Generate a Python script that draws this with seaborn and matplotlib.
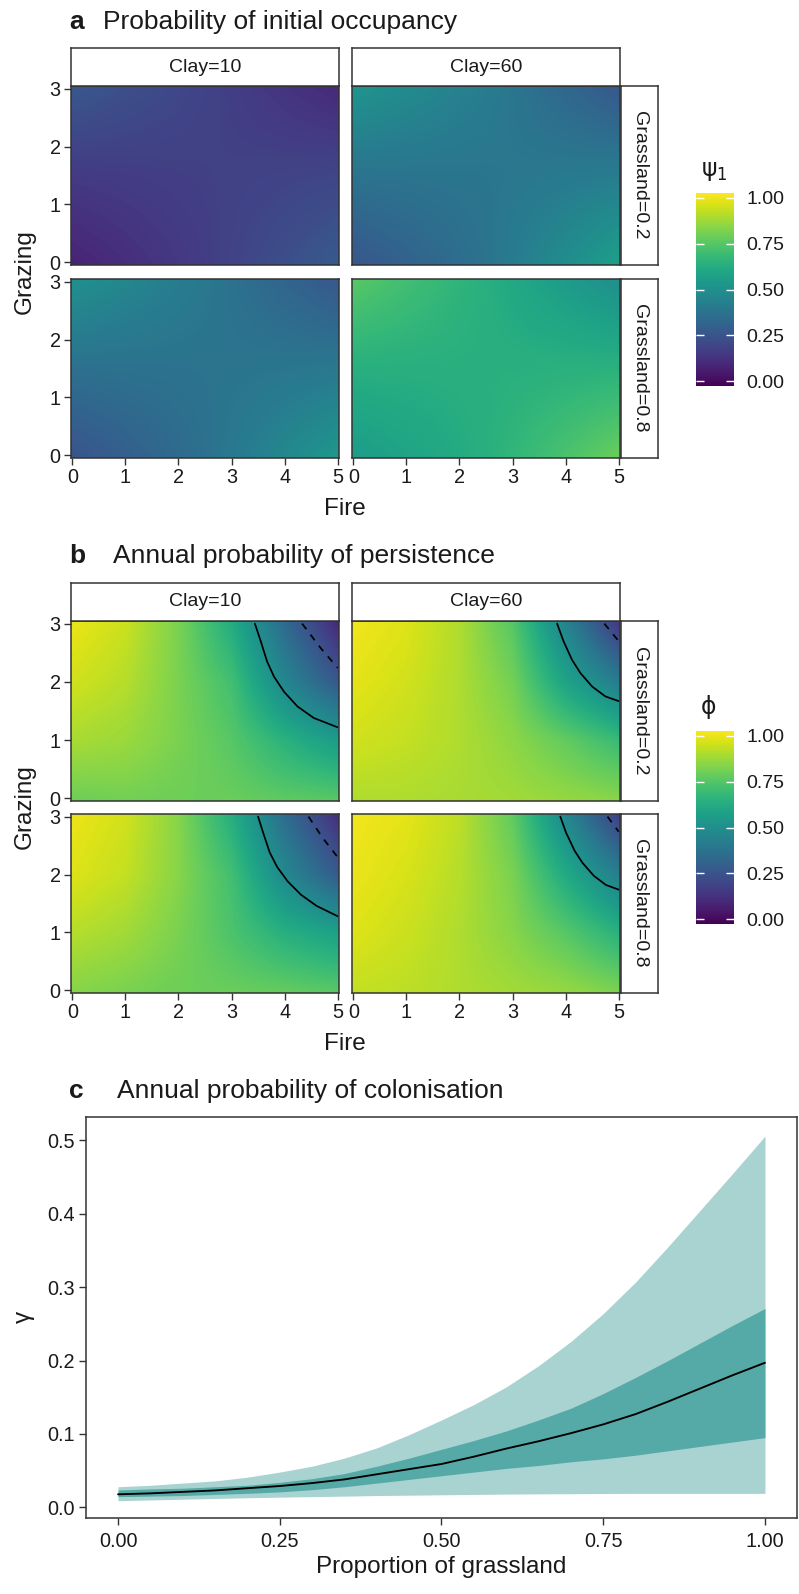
import numpy as np
import matplotlib
matplotlib.use("Agg")
import matplotlib.pyplot as plt
import seaborn as sns
import pandas as pd

# ------------------------------------------------------------------ data
# Panel a: probability of initial occupancy (psi_1); rows = grazing, cols = fire
a_fire = [0.0, 2.5, 5.0]
a_grazing = [0.0, 1.5, 3.0]
a_clay10_grass02 = [[0.10, 0.18, 0.28],
                    [0.17, 0.19, 0.21],
                    [0.27, 0.20, 0.12]]
a_clay60_grass02 = [[0.27, 0.38, 0.56],
                    [0.38, 0.39, 0.42],
                    [0.52, 0.42, 0.28]]
a_clay10_grass08 = [[0.26, 0.37, 0.53],
                    [0.37, 0.38, 0.40],
                    [0.50, 0.40, 0.28]]
a_clay60_grass08 = [[0.55, 0.63, 0.77],
                    [0.63, 0.63, 0.64],
                    [0.74, 0.63, 0.50]]

# Panel b: annual probability of persistence (phi)
b_fire = [0, 1, 2, 3, 4, 5]
b_grazing = [0, 1, 2, 3]
b_clay10_grass02 = [[0.78, 0.79, 0.78, 0.77, 0.75, 0.74],
                    [0.87, 0.85, 0.80, 0.74, 0.64, 0.55],
                    [0.93, 0.89, 0.80, 0.70, 0.46, 0.28],
                    [0.97, 0.92, 0.80, 0.62, 0.35, 0.12]]
b_clay60_grass02 = [[0.88, 0.88, 0.87, 0.86, 0.84, 0.82],
                    [0.93, 0.91, 0.88, 0.83, 0.76, 0.68],
                    [0.96, 0.93, 0.88, 0.79, 0.58, 0.42],
                    [0.98, 0.95, 0.88, 0.74, 0.45, 0.17]]
b_clay10_grass08 = [[0.82, 0.80, 0.78, 0.77, 0.76, 0.74],
                    [0.89, 0.86, 0.80, 0.72, 0.63, 0.57],
                    [0.95, 0.91, 0.82, 0.70, 0.47, 0.29],
                    [0.97, 0.93, 0.82, 0.63, 0.36, 0.14]]
b_clay60_grass08 = [[0.91, 0.90, 0.88, 0.86, 0.84, 0.80],
                    [0.95, 0.92, 0.88, 0.82, 0.74, 0.64],
                    [0.97, 0.94, 0.89, 0.80, 0.61, 0.43],
                    [0.98, 0.96, 0.90, 0.76, 0.47, 0.20]]

# contour lines (phi = 0.5 solid, phi = 0.25 dashed), as (fire, grazing)
b_c10_g02_solid_fire = [3.44, 3.55, 3.67, 3.80, 3.99, 4.24, 4.55, 5.00]
b_c10_g02_solid_graz = [3.00, 2.70, 2.35, 2.09, 1.83, 1.58, 1.38, 1.22]
b_c10_g02_dash_fire = [4.33, 4.68, 5.00]
b_c10_g02_dash_graz = [3.00, 2.58, 2.24]
b_c60_g02_solid_fire = [3.84, 3.96, 4.12, 4.28, 4.50, 4.75, 5.00]
b_c60_g02_solid_graz = [3.00, 2.70, 2.38, 2.15, 1.92, 1.75, 1.67]
b_c60_g02_dash_fire = [4.73, 5.00]
b_c60_g02_dash_graz = [3.00, 2.70]
b_c10_g08_solid_fire = [3.50, 3.60, 3.72, 3.86, 4.06, 4.31, 4.60, 5.00]
b_c10_g08_solid_graz = [3.00, 2.71, 2.38, 2.13, 1.88, 1.65, 1.46, 1.28]
b_c10_g08_dash_fire = [4.45, 4.72, 5.00]
b_c10_g08_dash_graz = [3.00, 2.63, 2.30]
b_c60_g08_solid_fire = [3.90, 4.01, 4.17, 4.32, 4.53, 4.76, 5.00]
b_c60_g08_solid_graz = [3.00, 2.72, 2.41, 2.20, 1.98, 1.82, 1.74]
b_c60_g08_dash_fire = [4.79, 5.00]
b_c60_g08_dash_graz = [3.00, 2.74]

# Panel c: annual probability of colonisation (gamma)
c_grass = [0.00, 0.05, 0.10, 0.15, 0.20, 0.25, 0.30, 0.35, 0.40, 0.45, 0.50,
           0.55, 0.60, 0.65, 0.70, 0.75, 0.80, 0.85, 0.90, 0.95, 1.00]
c_mean = [0.0177, 0.019, 0.021, 0.023, 0.026, 0.029, 0.033, 0.038, 0.045, 0.052, 0.059,
          0.069, 0.080, 0.090, 0.101, 0.113, 0.127, 0.144, 0.162, 0.180, 0.197]
c_q25 = [0.0145, 0.0152, 0.016, 0.0175, 0.019, 0.021, 0.024, 0.028, 0.033, 0.038, 0.043,
         0.048, 0.053, 0.057, 0.062, 0.066, 0.071, 0.077, 0.083, 0.089, 0.095]
c_q75 = [0.0236, 0.025, 0.026, 0.028, 0.030, 0.034, 0.039, 0.046, 0.056, 0.067, 0.079,
         0.091, 0.104, 0.119, 0.135, 0.155, 0.177, 0.200, 0.224, 0.248, 0.271]
c_q025 = [0.009, 0.010, 0.011, 0.012, 0.013, 0.0138, 0.0145, 0.0152, 0.016, 0.0165, 0.017,
          0.0175, 0.018, 0.0183, 0.0185, 0.0188, 0.019, 0.019, 0.019, 0.019, 0.019]
c_q975 = [0.028, 0.030, 0.033, 0.036, 0.041, 0.048, 0.056, 0.067, 0.081, 0.099, 0.119,
          0.140, 0.164, 0.193, 0.226, 0.264, 0.307, 0.355, 0.405, 0.455, 0.506]

strip_cols = ["Clay=10", "Clay=60"]
strip_rows = ["Grassland=0.2", "Grassland=0.8"]
cbar_ticks = [0.0, 0.25, 0.5, 0.75, 1.0]
cbar_labels = ["0.00", "0.25", "0.50", "0.75", "1.00"]

# ------------------------------------------------------------------ style
sns.set_theme(style="ticks")
plt.rcParams["font.family"] = ["Liberation Sans", "DejaVu Sans"]
plt.rcParams["mathtext.fontset"] = "dejavusans"
EDGE = "#333333"
TXT = "#1a1a1a"
TICK_FS = 14.3
STRIP_FS = 14
AXT_FS = 17.5
TITLE_FS = 19

W, H = 799, 1594
fig = plt.figure(figsize=(W / 100, H / 100), dpi=100)
fig.patch.set_facecolor("white")


def add_ax(l, t, r, b):
    return fig.add_axes([l / W, 1 - b / H, (r - l) / W, (b - t) / H])


def ftext(x, y, s, **kw):
    kw.setdefault("color", TXT)
    fig.text(x / W, 1 - y / H, s, **kw)


def style_spines(ax, lw=1.1):
    for s in ax.spines.values():
        s.set_visible(True)
        s.set_color(EDGE)
        s.set_linewidth(lw)


def strip(l, t, r, b, text, rot=0):
    ax = add_ax(l, t, r, b)
    ax.set_xticks([])
    ax.set_yticks([])
    ax.set_facecolor("white")
    style_spines(ax)
    ax.text(0.5, 0.5, text, ha="center", va="center", rotation=rot,
            fontsize=STRIP_FS, color=TXT, transform=ax.transAxes)


def heat(ax, fire, grazing, Z):
    fire = np.asarray(fire, float)
    gz = np.asarray(grazing, float)
    dx = (fire[1] - fire[0]) / 2
    dy = (gz[1] - gz[0]) / 2
    ax.imshow(np.asarray(Z), origin="lower", cmap="viridis", vmin=0, vmax=1,
              extent=[fire[0] - dx, fire[-1] + dx, gz[0] - dy, gz[-1] + dy],
              interpolation="bilinear", aspect="auto")
    ax.set_xlim(-0.025, 5.025)
    ax.set_ylim(-0.045, 3.045)
    ax.grid(False)
    style_spines(ax)
    ax.tick_params(length=5, width=1.0, color=EDGE, labelsize=TICK_FS,
                   labelcolor=TXT, pad=2.5)


def colorbar(l, t, r, b, title, title_y):
    cax = add_ax(l, t, r, b)
    cax.imshow(np.linspace(0, 1, 256)[:, None], origin="lower", cmap="viridis",
               extent=[0, 1, -0.026, 1.026], aspect="auto", vmin=0, vmax=1)
    cax.set_xlim(0, 1)
    cax.set_ylim(-0.026, 1.026)
    for s in cax.spines.values():
        s.set_visible(False)
    cax.set_xticks([])
    cax.set_yticks(cbar_ticks)
    cax.set_yticklabels(cbar_labels)
    cax.tick_params(axis="y", direction="in", length=5.5, width=1.0,
                    color="white", left=True, right=True, labelleft=False,
                    labelright=True, labelsize=14, labelcolor=TXT, pad=9)
    ftext(l + 5, title_y, title, fontsize=17, ha="left", va="center",
          family=["DejaVu Sans"])


col_x = [(71, 339), (352, 620)]


def facet_block(rows_y, strip_y, fields, fire, grazing, contours=None):
    for i, (t, b) in enumerate(rows_y):
        for j, (l, r) in enumerate(col_x):
            ax = add_ax(l, t, r, b)
            heat(ax, fire, grazing, fields[i][j])
            ax.set_xticks([0, 1, 2, 3, 4, 5])
            ax.set_yticks([0, 1, 2, 3])
            if i == len(rows_y) - 1:
                ax.set_xticklabels(["0", "1", "2", "3", "4", "5"])
            else:
                ax.tick_params(axis="x", bottom=False, labelbottom=False)
            if j == 0:
                ax.set_yticklabels(["0", "1", "2", "3"])
            else:
                ax.tick_params(axis="y", left=False, labelleft=False)
            if contours is not None:
                (sf, sg), (df, dg) = contours[i][j]
                ax.plot(sf, sg, color="black", lw=1.25, solid_joinstyle="round")
                ax.plot(df, dg, color="black", lw=1.25, linestyle=(0, (4, 4)))
    for j, (l, r) in enumerate(col_x):
        strip(l, strip_y[0], r, strip_y[1], strip_cols[j])
    for i, (t, b) in enumerate(rows_y):
        strip(621, t, 658, b, strip_rows[i], rot=270)


# ------------------------------------------------------------------ panel a
ftext(69, 29, "a", fontsize=TITLE_FS, fontweight="bold", ha="left", va="baseline")
ftext(103, 29, "Probability of initial occupancy", fontsize=TITLE_FS, ha="left",
      va="baseline")
facet_block([(86, 265), (279, 458)], (48, 86),
            [[a_clay10_grass02, a_clay60_grass02],
             [a_clay10_grass08, a_clay60_grass08]],
            a_fire, a_grazing)
ftext(345, 509, "Fire", fontsize=AXT_FS, ha="center", va="center")
ftext(25, 272, "Grazing", fontsize=AXT_FS, ha="center", va="center", rotation=90)
colorbar(696, 193, 734, 386, "ψ$_{1}$", 171)

# ------------------------------------------------------------------ panel b
ftext(69, 563, "b", fontsize=TITLE_FS, fontweight="bold", ha="left", va="baseline")
ftext(113, 563, "Annual probability of persistence", fontsize=TITLE_FS, ha="left",
      va="baseline")
b_contours = [
    [((b_c10_g02_solid_fire, b_c10_g02_solid_graz), (b_c10_g02_dash_fire, b_c10_g02_dash_graz)),
     ((b_c60_g02_solid_fire, b_c60_g02_solid_graz), (b_c60_g02_dash_fire, b_c60_g02_dash_graz))],
    [((b_c10_g08_solid_fire, b_c10_g08_solid_graz), (b_c10_g08_dash_fire, b_c10_g08_dash_graz)),
     ((b_c60_g08_solid_fire, b_c60_g08_solid_graz), (b_c60_g08_dash_fire, b_c60_g08_dash_graz))],
]
facet_block([(621, 801), (814, 993)], (583, 621),
            [[b_clay10_grass02, b_clay60_grass02],
             [b_clay10_grass08, b_clay60_grass08]],
            b_fire, b_grazing, contours=b_contours)
ftext(345, 1044, "Fire", fontsize=AXT_FS, ha="center", va="center")
ftext(25, 807, "Grazing", fontsize=AXT_FS, ha="center", va="center", rotation=90)
colorbar(696, 731, 734, 924, "ϕ", 707)

# ------------------------------------------------------------------ panel c
ftext(69, 1098, "c", fontsize=TITLE_FS, fontweight="bold", ha="left", va="baseline")
ftext(117, 1098, "Annual probability of colonisation", fontsize=TITLE_FS, ha="left",
      va="baseline")
axc = add_ax(86, 1117, 797, 1518)
df_c = pd.DataFrame({"grass": c_grass, "mean": c_mean, "lo50": c_q25,
                     "hi50": c_q75, "lo95": c_q025, "hi95": c_q975})
axc.fill_between(df_c["grass"], df_c["lo95"], df_c["hi95"], color="#a8d3d1",
                 lw=0)
axc.fill_between(df_c["grass"], df_c["lo50"], df_c["hi50"], color="#55aaa7",
                 lw=0)
sns.lineplot(data=df_c, x="grass", y="mean", color="black", lw=1.35, ax=axc)
axc.set_xlim(-0.0495, 1.0495)
axc.set_ylim(-0.0146, 0.532)
axc.set_xticks([0, 0.25, 0.5, 0.75, 1.0])
axc.set_xticklabels(["0.00", "0.25", "0.50", "0.75", "1.00"])
axc.set_yticks([0, 0.1, 0.2, 0.3, 0.4, 0.5])
axc.set_yticklabels(["0.0", "0.1", "0.2", "0.3", "0.4", "0.5"])
axc.set_xlabel("")
axc.set_ylabel("")
style_spines(axc)
axc.tick_params(length=5, width=1.0, color=EDGE, labelsize=TICK_FS,
                labelcolor=TXT, pad=3)
axc.tick_params(axis="x", pad=5)
ftext(441, 1567, "Proportion of grassland", fontsize=AXT_FS, ha="center",
      va="center")
ftext(24, 1317, "γ", fontsize=AXT_FS, ha="center", va="center", rotation=90)

fig.savefig("out.png", dpi=100, facecolor="white")
